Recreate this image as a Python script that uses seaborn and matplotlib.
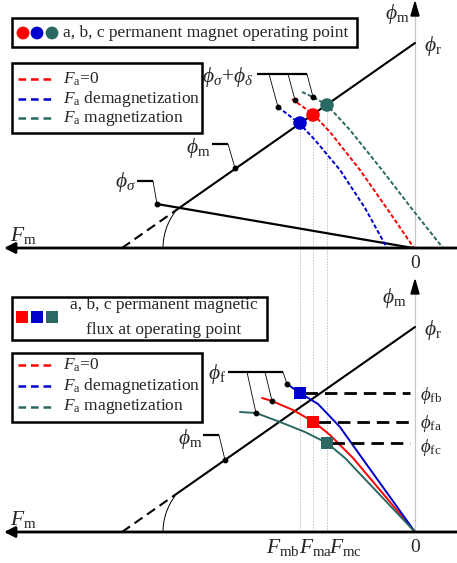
import matplotlib
matplotlib.use('Agg')
import matplotlib.pyplot as plt
import seaborn as sns
import pandas as pd
from matplotlib.patches import Rectangle, Arc, Polygon

# ---------------- data (pixel-space schematic) ----------------
series_names = ['Fa=0', 'Fa demagnetization', 'Fa magnetization']
series_colors = ['#FF0000', '#0000CC', '#2A6864']

# upper panel: dashed demagnetisation curves
top_red_x = [292, 313, 330, 360, 388, 414]
top_red_y = [99, 114, 132, 170, 210, 248]
top_blue_x = [278, 299, 315, 340, 365, 387]
top_blue_y = [107, 123, 140, 170, 208, 248]
top_teal_x = [302, 313, 327, 350, 382, 412, 443]
top_teal_y = [92, 97, 105, 130, 170, 209, 248]
# operating points (a, b, c)
op_x = [313, 300, 327]
op_y_top = [115, 123, 105]
op_y_bot = [422, 393, 443]

# lower panel: solid flux curves
bot_red_x = [262, 272, 293, 314, 330, 353, 385, 415]
bot_red_y = [398, 401, 410, 422, 435, 458, 496, 532]
bot_blue_x = [287, 300, 318, 340, 362, 390, 415]
bot_blue_y = [384, 393, 404, 427, 458, 497, 532]
bot_teal_x = [240, 256, 280, 305, 327, 345, 380, 415]
bot_teal_y = [412, 413, 422, 432, 443, 458, 495, 532]

flux_labels = [r'$\phi_{\mathrm{fa}}$', r'$\phi_{\mathrm{fb}}$', r'$\phi_{\mathrm{fc}}$']
flux_label_y = [423, 395, 447]
mmf_labels = [r'$F_{\mathrm{ma}}$', r'$F_{\mathrm{mb}}$', r'$F_{\mathrm{mc}}$']
mmf_label_x = [316, 283, 346]

# ---------------- style ----------------
sns.set_theme(style='white')
plt.rcParams['font.family'] = ['Liberation Serif', 'DejaVu Serif']
plt.rcParams['mathtext.fontset'] = 'custom'
plt.rcParams['mathtext.rm'] = 'Liberation Serif'
plt.rcParams['mathtext.it'] = 'Liberation Serif:italic'
plt.rcParams['mathtext.bf'] = 'Liberation Serif:bold'
plt.rcParams['lines.scale_dashes'] = False

fig = plt.figure(figsize=(4.57, 5.63), dpi=100)
ax = fig.add_axes([0, 0, 1, 1])
ax.set_axis_off()

K = 'black'
GRAY = '#C8C8C8'

def seg(xs, ys, **kw):
    sns.lineplot(x=xs, y=ys, ax=ax, sort=False, legend=False, estimator=None, **kw)

# ---- gray guide lines ----
for x, yt in zip(op_x, op_y_top):
    ax.plot([x, x], [yt, 532], color=GRAY, lw=0.7, ls=(0, (1.2, 0.8)), zorder=1)
ax.plot([415, 415], [16, 248], color=GRAY, lw=0.9, zorder=1)
ax.plot([415, 415], [295, 532], color=GRAY, lw=0.9, zorder=1)
# arrows on vertical axes
for ytip in (2, 280):
    ax.add_patch(Polygon([[415, ytip], [411, ytip + 14], [419, ytip + 14]], closed=True, color=K, zorder=5))

# ---- horizontal axes ----
for yax in (248, 532):
    ax.annotate('', xy=(4, yax), xytext=(457, yax),
                arrowprops=dict(arrowstyle='-|>', lw=2.0, color=K, mutation_scale=16, shrinkA=0, shrinkB=0))

# ---- load lines (phi_m) with dashed extensions and angle arcs ----
for off in (0, 284):
    xs0 = 180 if off == 0 else 175
    seg([122, xs0], [248 + off, 248 + off - (xs0 - 122) * 205 / 293], color=K, lw=1.5, linestyle=(0, (7, 4)))
    seg([xs0, 415], [248 + off - (xs0 - 122) * 205 / 293, 43 + off], color=K, lw=1.5)
    ax.add_patch(Arc((223, 248 + off), 120, 120, theta1=180, theta2=217, color=K, lw=0.7))

# leakage line phi_sigma
seg([157, 413], [204, 248], color=K, lw=1.6)

# ---- upper dashed curves ----
for xs, ys, c in [(top_red_x, top_red_y, series_colors[0]),
                  (top_blue_x, top_blue_y, series_colors[1]),
                  (top_teal_x, top_teal_y, series_colors[2])]:
    seg(xs, ys, color=c, lw=1.4, linestyle=(0, (3.0, 1.6)))

# ---- lower solid curves ----
for xs, ys, c in [(bot_red_x, bot_red_y, series_colors[0]),
                  (bot_blue_x, bot_blue_y, series_colors[1]),
                  (bot_teal_x, bot_teal_y, series_colors[2])]:
    seg(xs, ys, color=c, lw=1.4)

# ---- flux dashed horizontal lines ----
for x, y in zip(op_x, op_y_bot):
    ax.plot([x + 5, 410], [y, y], color=K, lw=2.0, ls=(0, (9, 5)), zorder=2)

# ---- operating point markers ----
sns.scatterplot(x=op_x, y=op_y_top, hue=series_names, palette=series_colors, s=95,
                marker='o', edgecolor='none', legend=False, ax=ax, zorder=6)
sns.scatterplot(x=op_x, y=op_y_bot, hue=series_names, palette=series_colors, s=75,
                marker='s', edgecolor='none', legend=False, ax=ax, zorder=6)

# ---- leaders ----
def leader(bar, lines):
    ax.plot(bar[0], bar[1], color=K, lw=1.6, solid_capstyle='butt')
    for (x0, y0, x1, y1) in lines:
        ax.plot([x0, x1], [y0, y1], color=K, lw=0.6)
        ax.plot([x1], [y1], 'o', color=K, ms=3.2, zorder=7)

leader(([257, 307], [74, 74]), [(269, 74, 278, 107), (288, 74, 295, 100), (307, 74, 313, 97)])
leader(([212, 228], [144, 144]), [(228, 144, 235, 168)])
leader(([137, 153], [181, 181]), [(153, 181, 157, 204)])
leader(([228, 283], [372, 372]), [(247, 372, 256, 413), (265, 372, 272, 401), (283, 372, 287, 384)])
leader(([203, 219], [435, 435]), [(219, 435, 225, 460)])

# ---- legend boxes ----
for (x0, y0, x1, y1) in [(12, 18, 357, 47), (12, 63, 202, 133), (12, 297, 267, 340), (12, 353, 202, 422)]:
    ax.add_patch(Rectangle((x0, y0), x1 - x0, y1 - y0, fill=False, lw=1.8, ec=K, zorder=8))

ax.scatter([23, 37, 52], [33, 33, 33], c=[series_colors[0], series_colors[1], series_colors[2]], s=85, marker='o', zorder=9, edgecolors='none')
ax.text(63, 33, 'a, b, c permanent magnet operating point', fontsize=12.5, ha='left', va='center')
ax.scatter([22, 37, 52], [317, 317, 317], c=[series_colors[0], series_colors[1], series_colors[2]], s=70, marker='s', zorder=9, edgecolors='none')
ax.text(164, 305, 'a, b, c permanent magnetic', fontsize=12.5, ha='center', va='center')
ax.text(164, 330, 'flux at operating point', fontsize=12.5, ha='center', va='center')

leg_texts = [r'$F_{\mathrm{a}}$=0', r'$F_{\mathrm{a}}$ demagnetization', r'$F_{\mathrm{a}}$ magnetization']
for ys in ([79, 99, 118], [365, 386, 407]):
    for y, c, t in zip(ys, series_colors, leg_texts):
        ax.plot([18, 52], [y, y], color=c, lw=1.8, ls=(0, (5.5, 3.5)))
        ax.text(63, y, t, fontsize=12.5, ha='left', va='center')

# ---- labels ----
PH = 15.5
ax.text(410, 14, r'$\phi_{\mathrm{m}}$', fontsize=PH, ha='right', va='center')
ax.text(424, 46, r'$\phi_{\mathrm{r}}$', fontsize=PH, ha='left', va='center')
ax.text(253, 77, r'$\phi_{\sigma}$+$\phi_{\delta}$', fontsize=PH, ha='right', va='center')
ax.text(211, 148, r'$\phi_{\mathrm{m}}$', fontsize=PH, ha='right', va='center')
ax.text(136, 182, r'$\phi_{\sigma}$', fontsize=PH, ha='right', va='center')
ax.text(10, 236, r'$F_{\mathrm{m}}$', fontsize=PH, ha='left', va='center')
ax.text(415, 264, '0', fontsize=14, ha='center', va='center')

ax.text(407, 298, r'$\phi_{\mathrm{m}}$', fontsize=PH, ha='right', va='center')
ax.text(424, 330, r'$\phi_{\mathrm{r}}$', fontsize=PH, ha='left', va='center')
ax.text(226, 374, r'$\phi_{\mathrm{f}}$', fontsize=PH, ha='right', va='center')
ax.text(203, 439, r'$\phi_{\mathrm{m}}$', fontsize=PH, ha='right', va='center')
ax.text(10, 520, r'$F_{\mathrm{m}}$', fontsize=PH, ha='left', va='center')
ax.text(415, 548, '0', fontsize=14, ha='center', va='center')
for y, t in zip(flux_label_y, flux_labels):
    ax.text(420, y, t, fontsize=13.5, ha='left', va='center')
for x, t in zip(mmf_label_x, mmf_labels):
    ax.text(x, 547, t, fontsize=PH, ha='center', va='center')

ax.set_xlim(0, 457)
ax.set_ylim(563, 0)
fig.savefig('out.png', dpi=100)
